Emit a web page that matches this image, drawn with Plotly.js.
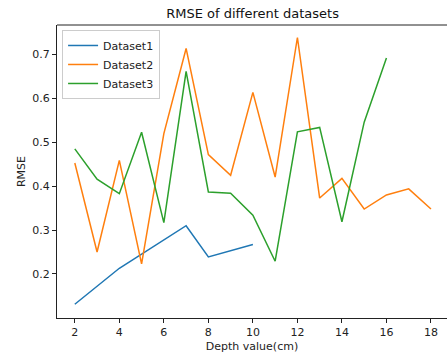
<!DOCTYPE html>
<html>
<head>
<meta charset="utf-8">
<script src="https://cdn.plot.ly/plotly-3.0.1.min.js"></script>
<style>html,body{margin:0;padding:0;background:#fff;}#chart{width:447px;height:354px;}</style>
</head>
<body>
<div id="chart"></div>
<script>
const x1 = [2, 4, 7, 8, 10];
const y1 = [0.131, 0.213, 0.310, 0.239, 0.267];
const x2 = [2, 3, 4, 5, 6, 7, 8, 9, 10, 11, 12, 13, 14, 15, 16, 17, 18];
const y2 = [0.453, 0.250, 0.459, 0.223, 0.520, 0.714, 0.472, 0.425, 0.614, 0.421, 0.739, 0.373, 0.418, 0.348, 0.380, 0.394, 0.348];
const x3 = [2, 3, 4, 5, 6, 7, 8, 9, 10, 11, 12, 13, 14, 15, 16];
const y3 = [0.485, 0.416, 0.383, 0.523, 0.317, 0.662, 0.387, 0.384, 0.334, 0.229, 0.524, 0.534, 0.319, 0.546, 0.692];
const names = ['Dataset1', 'Dataset2', 'Dataset3'];
const colors = ['#1f77b4', '#ff7f0e', '#2ca02c'];
const xTicks = [2, 4, 6, 8, 10, 12, 14, 16, 18];
const yTicks = [0.2, 0.3, 0.4, 0.5, 0.6, 0.7];

const xs = [x1, x2, x3], ys = [y1, y2, y3];
const data = names.map((n, i) => ({
  x: xs[i], y: ys[i], name: n, type: 'scatter', mode: 'lines',
  line: {color: colors[i], width: 1.5}
}));

const font = {family: 'DejaVu Sans, sans-serif', size: 11, color: '#222'};
const layout = {
  width: 447, height: 354,
  margin: {l: 57, r: 0, t: 25, b: 36},
  paper_bgcolor: '#fff', plot_bgcolor: '#fff',
  font: font,
  showlegend: true,
  title: {text: 'RMSE of different datasets', font: {family: 'DejaVu Sans, sans-serif', size: 13, color: '#111'},
          x: 0.565, xanchor: 'center', y: 0.963, yanchor: 'middle'},
  xaxis: {
    range: [1.2, 18.72], tickvals: xTicks, ticktext: xTicks.map(String),
    showgrid: false, zeroline: false, showline: true, linecolor: '#222', linewidth: 1,
    ticks: 'outside', ticklen: 4, tickcolor: '#222', tickfont: font,
    title: {text: 'Depth value(cm)', font: font, standoff: 4}
  },
  yaxis: {
    range: [0.0996, 0.7675], tickvals: yTicks, ticktext: yTicks.map(v => v.toFixed(1)),
    showgrid: false, zeroline: false, showline: true, linecolor: '#222', linewidth: 1,
    ticks: 'outside', ticklen: 4, tickcolor: '#222', tickfont: font,
    title: {text: 'RMSE', font: font, standoff: 4}
  },
  legend: {
    x: 0.013, y: 0.983, xanchor: 'left', yanchor: 'top',
    bgcolor: 'rgba(255,255,255,0.8)', bordercolor: '#ccc', borderwidth: 1,
    font: font, tracegroupgap: 0
  },
  shapes: [{type: 'line', xref: 'paper', yref: 'paper', x0: 0, x1: 1, y0: 1, y1: 1,
            line: {color: '#222', width: 1}}]
};
Plotly.newPlot('chart', data, layout, {displayModeBar: false, staticPlot: true});
</script>
</body>
</html>
